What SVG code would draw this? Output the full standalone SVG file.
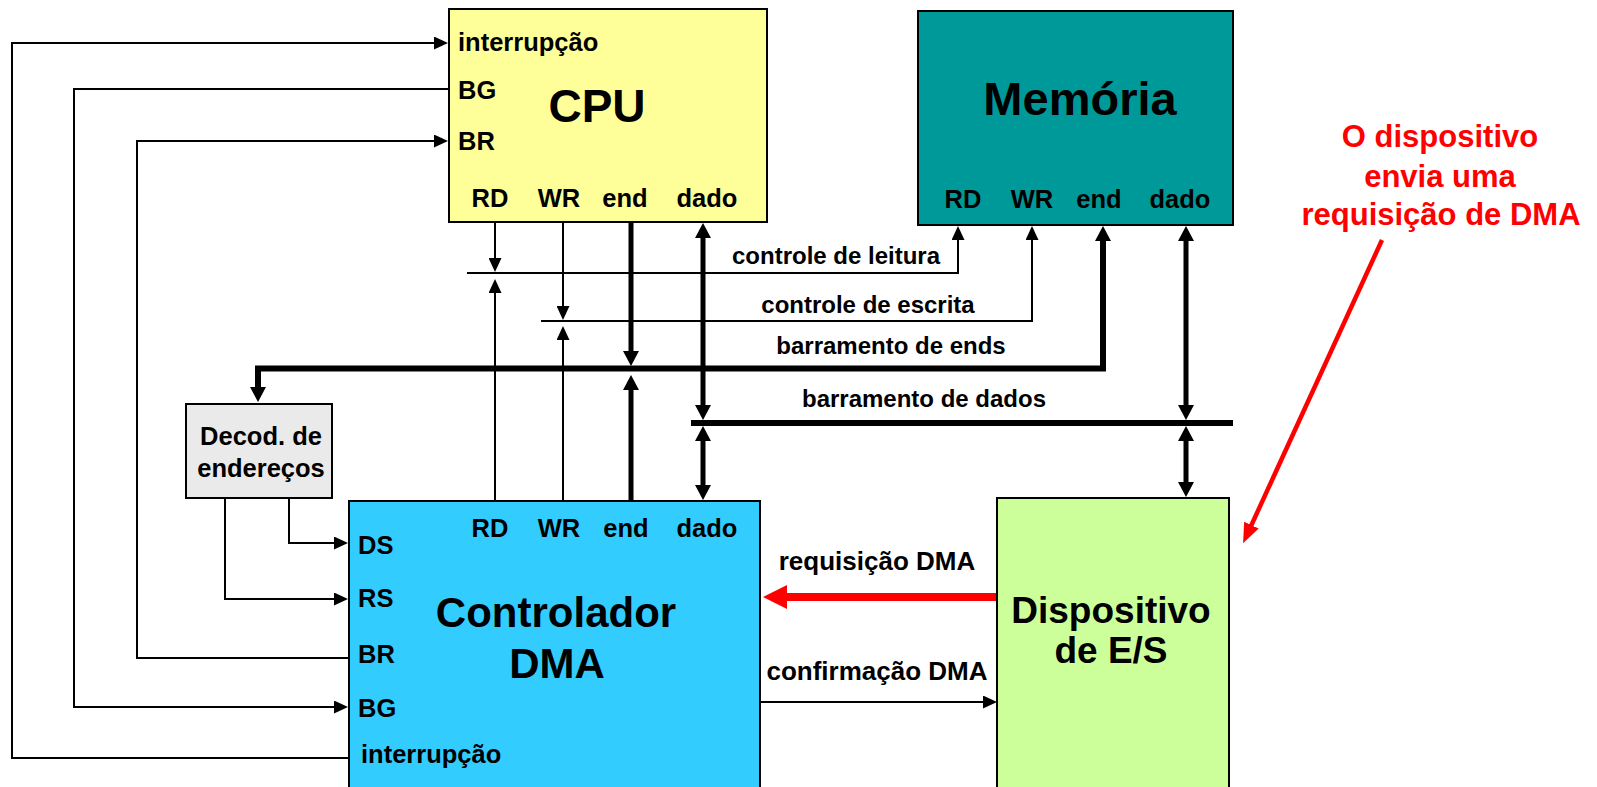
<svg xmlns="http://www.w3.org/2000/svg" width="1597" height="787" viewBox="0 0 1597 787">
  <style>
    text { font-family: "Liberation Sans", Arial, sans-serif; font-weight: bold; fill: #000; }
    .box { stroke: #000; stroke-width: 2; }
    .pin { font-size: 25.5px; }
    .pinc { font-size: 25.5px; text-anchor: middle; }
    .title { text-anchor: middle; }
    .lbl { font-size: 24px; text-anchor: middle; }
    .lbl2 { font-size: 26px; text-anchor: middle; }
    .note { font-size: 31px; text-anchor: middle; fill: #FF0000; }
    .thin { fill: none; stroke: #000; stroke-width: 2; marker-end: url(#a); }
    .ctl { fill: none; stroke: #000; stroke-width: 2; }
    .bold { fill: none; stroke: #000; stroke-width: 5; }
    .bus { fill: none; stroke: #000; stroke-width: 6; }
  </style>
  <defs>
    <marker id="a" markerUnits="userSpaceOnUse" markerWidth="15" markerHeight="13" refX="1" refY="6.5" orient="auto-start-reverse">
      <path d="M0,0 L14,6.5 L0,13 Z" fill="#000"/>
    </marker>
    <marker id="ab" markerUnits="userSpaceOnUse" markerWidth="16" markerHeight="16" refX="1" refY="8" orient="auto-start-reverse">
      <path d="M0,0 L15,8 L0,16 Z" fill="#000"/>
    </marker>
    <marker id="ar" markerUnits="userSpaceOnUse" markerWidth="25" markerHeight="24" refX="1" refY="12" orient="auto">
      <path d="M0,0 L24,12 L0,24 Z" fill="#FF0000"/>
    </marker>
    <marker id="ad" markerUnits="userSpaceOnUse" markerWidth="21" markerHeight="16" refX="1" refY="8" orient="auto">
      <path d="M0,0 L20,8 L0,16 Z" fill="#FF0000"/>
    </marker>
  </defs>

  <rect width="1597" height="787" fill="#FFFFFF"/>

  <!-- connectors -->
  <g id="connectors">
    <!-- interrupt, bus grant, bus request loops -->
    <path class="thin" d="M351,758 H12 V43 H435"/>
    <path class="thin" d="M449,89 H74 V707 H335"/>
    <path class="thin" d="M349,658 H137 V141 H435"/>
    <!-- address decoder selects -->
    <path class="thin" d="M289,498 V543 H335"/>
    <path class="thin" d="M225,498 V599 H335"/>

    <!-- read control -->
    <path class="thin" d="M495,222 V259"/>
    <path class="ctl" d="M467,273 H958 V239" marker-end="url(#a)"/>
    <path class="thin" d="M495,501 V292"/>
    <!-- write control -->
    <path class="thin" d="M563,222 V307"/>
    <path class="ctl" d="M541,321 H1032 V239" marker-end="url(#a)"/>
    <path class="thin" d="M563,501 V339"/>

    <!-- address bus -->
    <path class="bold" d="M631,222 V352" marker-end="url(#ab)"/>
    <path class="bold" d="M631,501 V389" marker-end="url(#ab)"/>
    <path class="bus" d="M1103,240 V368.5 H258 V388" marker-start="url(#ab)" marker-end="url(#ab)"/>

    <!-- data bus -->
    <path class="bus" d="M691,423 H1233"/>
    <path class="bold" d="M703,237 V406" marker-start="url(#ab)" marker-end="url(#ab)"/>
    <path class="bold" d="M703,440 V486" marker-start="url(#ab)" marker-end="url(#ab)"/>
    <path class="bold" d="M1186,240 V406" marker-start="url(#ab)" marker-end="url(#ab)"/>
    <path class="bold" d="M1186,440 V483" marker-start="url(#ab)" marker-end="url(#ab)"/>

    <!-- DMA request / acknowledge -->
    <path d="M997,597 H786" fill="none" stroke="#FF0000" stroke-width="8" marker-end="url(#ar)"/>
    <path class="thin" d="M760,702 H984"/>

    <!-- note pointer -->
    <path d="M1382,240 L1251,526" fill="none" stroke="#FF0000" stroke-width="4.5" marker-end="url(#ad)"/>

    <text class="lbl" x="836" y="264">controle de leitura</text>
    <text class="lbl" x="868" y="313">controle de escrita</text>
    <text class="lbl" x="891" y="354">barramento de ends</text>
    <text class="lbl" x="924" y="407">barramento de dados</text>
    <text class="lbl2" x="877" y="570">requisição DMA</text>
    <text class="lbl2" x="877" y="680">confirmação DMA</text>
  </g>

  <g id="cpu">
    <rect class="box" x="449" y="9" width="318" height="213" fill="#FFFF99"/>
    <text class="pin" x="458" y="51">interrupção</text>
    <text class="pin" x="458" y="99">BG</text>
    <text class="pin" x="458" y="150">BR</text>
    <text class="title" x="597" y="122" font-size="46">CPU</text>
    <text class="pinc" x="490" y="207">RD</text>
    <text class="pinc" x="559" y="207">WR</text>
    <text class="pinc" x="625" y="207">end</text>
    <text class="pinc" x="707" y="207">dado</text>
  </g>

  <g id="memoria">
    <rect class="box" x="918" y="11" width="315" height="214" fill="#009999"/>
    <text class="title" x="1080" y="115" font-size="47">Memória</text>
    <text class="pinc" x="963" y="208">RD</text>
    <text class="pinc" x="1032" y="208">WR</text>
    <text class="pinc" x="1099" y="208">end</text>
    <text class="pinc" x="1180" y="208">dado</text>
  </g>

  <g id="decodificador">
    <rect class="box" x="186" y="404" width="146" height="94" fill="#EAEAEA"/>
    <text class="pinc" x="261" y="445">Decod. de</text>
    <text class="pinc" x="261" y="477">endereços</text>
  </g>

  <g id="controlador-dma">
    <rect class="box" x="349" y="501" width="411" height="300" fill="#33CCFF"/>
    <text class="pin" x="358" y="554">DS</text>
    <text class="pin" x="358" y="607">RS</text>
    <text class="pin" x="358" y="663">BR</text>
    <text class="pin" x="358" y="717">BG</text>
    <text class="pin" x="361" y="763">interrupção</text>
    <text class="pinc" x="490" y="537">RD</text>
    <text class="pinc" x="559" y="537">WR</text>
    <text class="pinc" x="626" y="537">end</text>
    <text class="pinc" x="707" y="537">dado</text>
    <text class="title" x="556" y="627" font-size="42">Controlador</text>
    <text class="title" x="557" y="678" font-size="42">DMA</text>
  </g>

  <g id="dispositivo">
    <rect class="box" x="997" y="498" width="232" height="300" fill="#CCFF99"/>
    <text class="title" x="1111" y="623" font-size="37">Dispositivo</text>
    <text class="title" x="1111" y="663" font-size="37">de E/S</text>
  </g>

  <g id="nota">
    <text class="note" x="1440" y="147">O dispositivo</text>
    <text class="note" x="1440" y="187">envia uma</text>
    <text class="note" x="1441" y="225">requisição de DMA</text>
  </g>
</svg>
